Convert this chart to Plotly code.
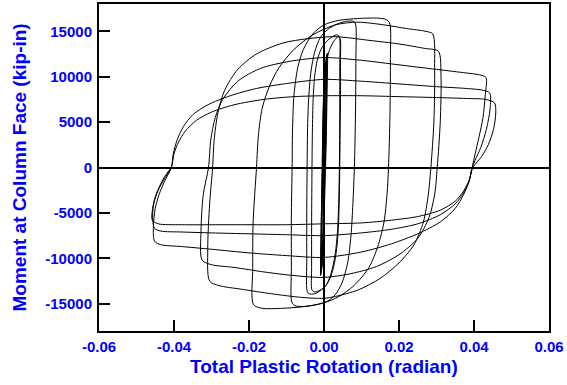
import plotly.graph_objects as go

# ---- axis ticks ----
x_ticks = [-0.06, -0.04, -0.02, 0.0, 0.02, 0.04, 0.06]
x_tick_labels = ["-0.06", "-0.04", "-0.02", "0.00", "0.02", "0.04", "0.06"]
y_ticks = [-15000, -10000, -5000, 0, 5000, 10000, 15000]
y_tick_labels = ["-15000", "-10000", "-5000", "0", "5000", "10000", "15000"]

x_title = "Total Plastic Rotation (radian)"
y_title = "Moment at Column Face (kip-in)"

# ---- hysteresis cycles (rotation in radian, moment in kip-in) ----
rot_a1 = [0.0000, 0.0001, 0.0003, 0.0005, 0.0006, 0.0005, 0.0003, 0.0001, -0.0001, -0.0003, -0.0005, -0.0007, -0.0006, -0.0004, -0.0003]
mom_a1 = [0, 4000, 8000, 10500, 11200, 8000, 3000, 0, -4000, -8000, -10300, -11000, -8000, -3000, 0]

rot_a2 = [-0.0001, 0.0002, 0.0005, 0.0007, 0.0006, 0.0004, 0.0002, 0.0000, -0.0003, -0.0006, -0.0008, -0.0007, -0.0005, -0.0004]
mom_a2 = [4500, 8500, 11000, 11900, 8000, 3000, 0, -4500, -8500, -10900, -11500, -8000, -3000, 0]

rot_a3 = [-0.0002, 0.0001, 0.0005, 0.0008, 0.0007, 0.0005, 0.0003, 0.0000, -0.0003, -0.0006, -0.0009, -0.0008, -0.0006, -0.0005]
mom_a3 = [4500, 8500, 11300, 12400, 8000, 3000, 0, -4500, -8500, -11000, -11800, -8000, -3000, 0]

rot_a4 = [-0.0003, 0.0000, 0.0004, 0.0009, 0.0008, 0.0006, 0.0004, 0.0001, -0.0002, -0.0006, -0.0009, -0.0008, -0.0006, -0.0004]
mom_a4 = [4500, 8500, 11500, 12600, 8000, 3000, 0, -4500, -8500, -11000, -11900, -8000, -3000, 0]

rot_b1 = [-0.0003, 0.0000, 0.0006, 0.0015, 0.0028, 0.0038, 0.0043, 0.0044, 0.0044, 0.0043, 0.0042, 0.0041, 0.0039, 0.0035, 0.0028, 0.0018, 0.0005, -0.0010, -0.0025, -0.0032, -0.0033, -0.0033, -0.0032]
mom_b1 = [5000, 9000, 11500, 13000, 14000, 14400, 14200, 12000, 8000, 4000, 0, -3000, -6000, -8500, -10500, -12000, -13000, -13500, -13700, -13500, -11000, -6000, 0]

rot_b2 = [-0.0031, -0.0029, -0.0025, -0.0018, -0.0008, 0.0005, 0.0022, 0.0036, 0.0041, 0.0042, 0.0042, 0.0041, 0.0039, 0.0036, 0.0030, 0.0020, 0.0008, -0.0008, -0.0025, -0.0040, -0.0045, -0.0046, -0.0046, -0.0045]
mom_b2 = [4000, 7500, 10000, 11800, 13000, 13800, 14400, 14600, 14400, 11000, 6000, 0, -4000, -7000, -9500, -11500, -12800, -13500, -13900, -13900, -13600, -10000, -5000, 0]

rot_c = [-0.0044, -0.0041, -0.0035, -0.0025, -0.0010, 0.0010, 0.0035, 0.0060, 0.0078, 0.0084, 0.0085, 0.0084, 0.0081, 0.0077, 0.0072, 0.0063, 0.0048, 0.0030, 0.0010, -0.0020, -0.0055, -0.0078, -0.0086, -0.0087, -0.0087, -0.0085]
mom_c = [4000, 7500, 10500, 12700, 14300, 15200, 15800, 16100, 16100, 15800, 12000, 6000, 0, -4000, -7500, -10500, -12700, -14000, -14700, -15100, -15300, -15200, -14800, -11000, -5000, 0]

rot_d = [-0.0084, -0.0080, -0.0070, -0.0055, -0.0030, 0.0000, 0.0040, 0.0090, 0.0140, 0.0165, 0.0175, 0.0177, 0.0176, 0.0172, 0.0168, 0.0160, 0.0145, 0.0120, 0.0080, 0.0040, 0.0000, -0.0050, -0.0110, -0.0165, -0.0188, -0.0190, -0.0189, -0.0180]
mom_d = [4000, 8000, 11000, 13000, 14700, 15700, 16200, 16400, 16450, 16300, 15900, 12000, 6000, 0, -3000, -6000, -8500, -11000, -13000, -14200, -14900, -15300, -15500, -15500, -15100, -11000, -6000, 0]

rot_e1 = [-0.0175, -0.0165, -0.0145, -0.0120, -0.0080, -0.0030, 0.0030, 0.0090, 0.0160, 0.0220, 0.0270, 0.0290, 0.0295, 0.0293, 0.0285, 0.0278, 0.0265, 0.0240, 0.0200, 0.0150, 0.0090, 0.0030, 0.0000, -0.0060, -0.0140, -0.0220, -0.0280, -0.0305, -0.0310, -0.0305, -0.0297]
mom_e1 = [3500, 6500, 9000, 11000, 13000, 14600, 15700, 16000, 15700, 15300, 15000, 14700, 11000, 5000, 0, -3000, -6000, -8500, -10500, -12200, -13500, -14200, -14400, -14300, -13900, -13400, -13000, -12500, -9000, -4000, 0]

rot_e2 = [-0.0293, -0.0283, -0.0265, -0.0230, -0.0180, -0.0110, -0.0040, 0.0030, 0.0120, 0.0200, 0.0270, 0.0305, 0.0312, 0.0310, 0.0302, 0.0295, 0.0280, 0.0250, 0.0200, 0.0140, 0.0070, 0.0000, -0.0080, -0.0160, -0.0240, -0.0300, -0.0325, -0.0328, -0.0322, -0.0308]
mom_e2 = [3000, 6000, 8500, 10800, 12500, 13700, 14200, 14400, 14000, 13600, 13100, 12800, 10000, 5000, 0, -3000, -5500, -7800, -9600, -10900, -11700, -12100, -11900, -11500, -11000, -10700, -10200, -7000, -3000, 0]

rot_l1 = [-0.0302, -0.0290, -0.0270, -0.0230, -0.0170, -0.0090, 0.0000, 0.0100, 0.0200, 0.0300, 0.0380, 0.0415, 0.0432, 0.0430, 0.0424, 0.0413, 0.0403, 0.0395, 0.0387, 0.0372, 0.0350, 0.0310, 0.0250, 0.0180, 0.0100, 0.0000, -0.0100, -0.0200, -0.0300, -0.0380, -0.0435, -0.0452, -0.0455, -0.0450, -0.0440, -0.0425, -0.0407]
mom_l1 = [3000, 5500, 7500, 9500, 10900, 11700, 12100, 11800, 11300, 10800, 10400, 10200, 9900, 8000, 5500, 3300, 1500, 0, -1500, -3000, -4500, -6000, -7300, -8400, -9300, -9900, -9700, -9400, -9000, -8700, -8500, -8100, -6500, -4500, -3000, -1500, 0]

rot_l2 = [-0.0402, -0.0392, -0.0375, -0.0350, -0.0310, -0.0250, -0.0180, -0.0090, 0.0000, 0.0100, 0.0200, 0.0300, 0.0380, 0.0425, 0.0442, 0.0443, 0.0433, 0.0418, 0.0403, 0.0395, 0.0387, 0.0372, 0.0350, 0.0310, 0.0250, 0.0180, 0.0100, 0.0000, -0.0100, -0.0200, -0.0300, -0.0380, -0.0435, -0.0452, -0.0457, -0.0454, -0.0442, -0.0425, -0.0407]
mom_l2 = [1500, 3000, 4500, 5800, 6900, 7900, 8700, 9300, 9700, 9500, 9200, 8900, 8700, 8500, 8200, 6500, 4200, 2200, 800, 0, -1500, -2800, -4000, -5200, -6200, -6800, -7200, -7500, -7400, -7300, -7200, -7100, -7000, -6700, -5500, -4000, -2500, -1200, 0]

rot_l3 = [-0.0400, -0.0388, -0.0370, -0.0340, -0.0300, -0.0240, -0.0160, -0.0080, 0.0000, 0.0100, 0.0200, 0.0300, 0.0380, 0.0430, 0.0455, 0.0458, 0.0452, 0.0438, 0.0420, 0.0397, 0.0387, 0.0372, 0.0350, 0.0310, 0.0250, 0.0180, 0.0100, 0.0000, -0.0100, -0.0200, -0.0300, -0.0380, -0.0442, -0.0458, -0.0458, -0.0452, -0.0440, -0.0425, -0.0407]
mom_l3 = [1500, 2800, 4000, 5200, 6100, 6900, 7500, 7800, 7900, 7900, 7800, 7700, 7600, 7500, 7100, 6000, 4200, 2500, 1200, 0, -1400, -2600, -3700, -4700, -5400, -5800, -6100, -6200, -6300, -6300, -6300, -6300, -6200, -5800, -4800, -3500, -2200, -1000, 0]

rot_cycles = [rot_a1, rot_a2, rot_a3, rot_a4, rot_b1, rot_b2, rot_c, rot_d, rot_e1, rot_e2, rot_l1, rot_l2, rot_l3]
mom_cycles = [mom_a1, mom_a2, mom_a3, mom_a4, mom_b1, mom_b2, mom_c, mom_d, mom_e1, mom_e2, mom_l1, mom_l2, mom_l3]

rotation = [v for seg in rot_cycles for v in seg]
moment = [v for seg in mom_cycles for v in seg]

BLUE = "#0000ff"
FONT = "Arial, 'Liberation Sans', Helvetica, sans-serif"

fig = go.Figure()
fig.add_trace(go.Scatter(
    x=rotation, y=moment, mode="lines",
    line=dict(color="black", width=1, shape="spline", smoothing=0.8),
    hoverinfo="skip", showlegend=False,
))

axis_common = dict(
    ticks="inside", ticklen=11, tickwidth=2, tickcolor="black",
    showline=True, linecolor="black", linewidth=2, mirror=True,
    showgrid=False, zeroline=True, zerolinecolor="black", zerolinewidth=2,
    tickfont=dict(family=FONT, size=15, color=BLUE, weight="bold"),
    fixedrange=True, automargin=False,
)

fig.update_layout(
    width=567, height=385,
    margin=dict(l=99, r=18, t=4, b=54, autoexpand=False),
    paper_bgcolor="white", plot_bgcolor="white",
    showlegend=False,
    xaxis=dict(range=[-0.06, 0.06], tickmode="array", tickvals=x_ticks, ticktext=x_tick_labels,
               ticklabelstandoff=1, **axis_common),
    yaxis=dict(range=[-18000, 18000], tickmode="array", tickvals=y_ticks, ticktext=y_tick_labels,
               ticklabelstandoff=2, **axis_common),
    annotations=[
        dict(text=x_title, xref="paper", yref="paper", x=0.5, y=0, xanchor="center", yanchor="middle",
             yshift=-35, showarrow=False,
             font=dict(family=FONT, size=19, color=BLUE, weight="bold")),
        dict(text=y_title, xref="paper", yref="paper", x=0, y=0.5, xanchor="center", yanchor="middle",
             xshift=-80, textangle=-90, showarrow=False,
             font=dict(family=FONT, size=19, color=BLUE, weight="bold")),
    ],
)

fig.write_html("out.html", config={"displayModeBar": False},
               post_script="document.body.style.margin='0';")
